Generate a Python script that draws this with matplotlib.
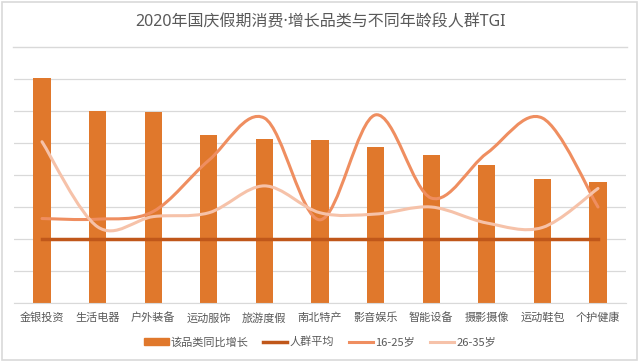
import numpy as np
import matplotlib.pyplot as plt
from matplotlib.path import Path
from matplotlib.patches import PathPatch, Rectangle
from matplotlib.lines import Line2D

plt.rcParams['font.family'] = ['Noto Sans CJK SC', 'DejaVu Sans']

categories = ['金银投资', '生活电器', '户外装备', '运动服饰', '旅游度假', '南北特产',
              '影音娱乐', '智能设备', '摄影摄像', '运动鞋包', '个护健康']
growth = [351, 300, 298, 262, 256, 255, 244, 232, 215, 194, 189]
avg = [100] * 11
tgi_16_25 = [132, 131, 143, 223, 289, 130, 294, 164, 234, 289, 150]
tgi_26_35 = [252, 119, 135, 141, 183, 141, 139, 150, 125, 118, 179]

title = '2020年国庆假期消费·增长品类与不同年龄段人群TGI'
names = ['该品类同比增长', '人群平均', '16-25岁', '26-35岁']

c_bar = '#E0782C'
c_avg = '#C0571A'
c_young = '#EF8E60'
c_mid = '#F6C2A9'
c_text = '#595959'
c_grid = '#D9D9D9'


def smooth_path(xs, ys):
    # Excel-style smoothed line as cubic bezier segments
    pts = np.column_stack([xs, ys]).astype(float)
    n = len(pts)
    verts = [pts[0]]
    codes = [Path.MOVETO]
    for i in range(n - 1):
        p0 = pts[max(i - 1, 0)]
        p1 = pts[i]
        p2 = pts[i + 1]
        p3 = pts[min(i + 2, n - 1)]
        c1 = p1 + (p2 - p0) / 6
        c2 = p2 - (p3 - p1) / 6
        verts += [c1, c2, p2]
        codes += [Path.CURVE4] * 3
    return Path(verts, codes)


fig = plt.figure(figsize=(6.4, 3.61), dpi=100)
fig.patches.append(Rectangle((0.003, 0.004), 0.992, 0.99, transform=fig.transFigure,
                             fill=False, edgecolor='#D9D9D9', linewidth=1.2))
fig.add_artist(Line2D([0.021, 0.979], [1 - 47 / 361, 1 - 47 / 361],
                      transform=fig.transFigure, color=c_grid, linewidth=1))
fig.text(0.5, 1 - 22 / 361, title, ha='center', va='center', fontsize=11.5,
         color=c_text, family=['Noto Sans', 'Noto Sans CJK SC'])

ax = fig.add_axes([0.0222, 58 / 361, 0.9556, 0.624])
x = np.arange(len(categories))

ax.bar(x, growth, width=0.31, color=c_bar, zorder=2)
ax.plot(x, avg, color=c_avg, linewidth=2.5, zorder=3)
ax.add_patch(PathPatch(smooth_path(x, tgi_16_25), fill=False, edgecolor=c_young,
                       linewidth=2.2, zorder=4, capstyle='round'))
ax.add_patch(PathPatch(smooth_path(x, tgi_26_35), fill=False, edgecolor=c_mid,
                       linewidth=2.2, zorder=4, capstyle='round'))

ax.set_xlim(-0.5, len(categories) - 0.5)
ax.set_ylim(0, 352)
ax.set_yticks(np.arange(0, 351, 50))
ax.yaxis.grid(True, color=c_grid, linewidth=0.9, zorder=0)
ax.tick_params(axis='y', length=0, labelleft=False)
ax.tick_params(axis='x', length=0, pad=7, labelsize=8, labelcolor=c_text)
ax.set_xticks(x)
ax.set_xticklabels(categories)
for s in ['top', 'right', 'left']:
    ax.spines[s].set_visible(False)
ax.spines['bottom'].set_color(c_grid)

handles = [
    Rectangle((0, 0), 1, 1, color=c_bar),
    Line2D([], [], color=c_avg, linewidth=2.5),
    Line2D([], [], color=c_young, linewidth=2.2),
    Line2D([], [], color=c_mid, linewidth=2.2),
]
leg = fig.legend(handles, names, loc='center', bbox_to_anchor=(0.5, 1 - 342 / 361),
                 ncol=4, frameon=False, fontsize=8, handlelength=2.2, handleheight=0.5,
                 handletextpad=0.2, columnspacing=1.3)
for t in leg.get_texts():
    t.set_color(c_text)

fig.savefig('out.png', dpi=100)
